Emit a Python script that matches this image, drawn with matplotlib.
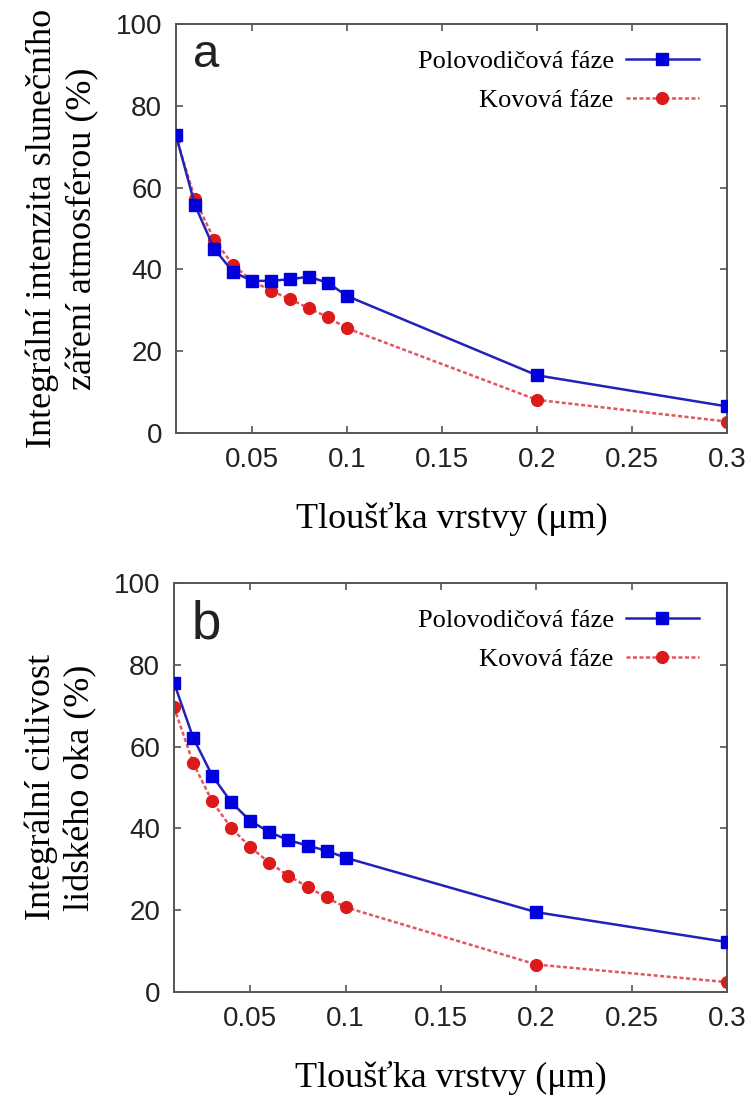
import numpy as np
import matplotlib.pyplot as plt

# tloušťka vrstvy (um)
x = [0.01, 0.02, 0.03, 0.04, 0.05, 0.06, 0.07, 0.08, 0.09, 0.1, 0.2, 0.3]

# panel a - integralni intenzita slunecniho zareni
a_polo = [72.8, 55.7, 45.1, 39.4, 37.2, 37.2, 37.6, 38.2, 36.7, 33.5, 14.1, 6.5]
a_kov = [72.4, 57.2, 47.3, 41.1, 37.2, 34.8, 32.7, 30.5, 28.3, 25.6, 8.1, 2.8]

# panel b - integralni citlivost lidskeho oka
b_polo = [75.6, 62.2, 52.9, 46.4, 41.8, 39.1, 37.1, 35.8, 34.5, 32.8, 19.5, 12.2]
b_kov = [69.6, 56.0, 46.6, 40.1, 35.4, 31.6, 28.4, 25.7, 23.1, 20.7, 6.7, 2.4]

xticks = [0.05, 0.1, 0.15, 0.2, 0.25, 0.3]
xticklabels = ['0.05', '0.1', '0.15', '0.2', '0.25', '0.3']
yticks = [0, 20, 40, 60, 80, 100]

serif = 'Liberation Serif'
sans = 'Liberation Sans'

fig = plt.figure(figsize=(7.55, 10.99), dpi=100)
ax_a = fig.add_axes([0.2331, 0.606, 0.7298, 0.3722])
ax_b = fig.add_axes([0.2305, 0.0974, 0.7325, 0.3722])

panels = [
    (ax_a, a_polo, a_kov, 'a', 34, 0.895, 'Integrální intenzita slunečního\nzáření atmosférou (%)'),
    (ax_b, b_polo, b_kov, 'b', 38, 0.863, 'Integrální citlivost\nlidského oka (%)'),
]

for ax, polo, kov, letter, lsize, ly, ylab in panels:
    ax.plot(x, polo, color='#2222b8', lw=1.8, marker='s', ms=8.5,
            mfc='#0000dd', mec='#0000dd', label='Polovodičová fáze', zorder=3)
    ax.plot(x, kov, color='#e25560', lw=1.8, ls=(0, (1.6, 1)), marker='o', ms=8.5,
            mfc='#dd1a1a', mec='#dd1a1a', label='Kovová fáze', zorder=2)
    ax.set_xlim(0.01, 0.3)
    ax.set_ylim(0, 100)
    ax.set_xticks(xticks)
    ax.set_xticklabels(xticklabels)
    ax.set_yticks(yticks)
    ax.tick_params(direction='in', top=True, right=True, length=5, width=1.2,
                   labelsize=20, pad=10, color='#555555')
    for lbl in ax.get_xticklabels() + ax.get_yticklabels():
        lbl.set_family(sans)
        lbl.set_color('#222222')
    for s in ax.spines.values():
        s.set_color('#555555')
        s.set_linewidth(1.4)
    ax.set_xlabel('Tloušťka vrstvy (μm)', family=serif, fontsize=26, labelpad=21)
    ax.set_ylabel(ylab, family=serif, fontsize=26, labelpad=12, linespacing=1.25)
    ax.text(0.031, ly, letter, transform=ax.transAxes, family=sans,
            fontsize=lsize, va='baseline', ha='left', color='#222222')
    ax.legend(loc='upper right', bbox_to_anchor=(0.95, 0.937), frameon=False,
              markerfirst=False, prop={'family': serif, 'size': 19},
              borderpad=0, borderaxespad=0,
              handlelength=2.8, labelspacing=0.58, handletextpad=0.45)

fig.savefig('out.png', dpi=100)
